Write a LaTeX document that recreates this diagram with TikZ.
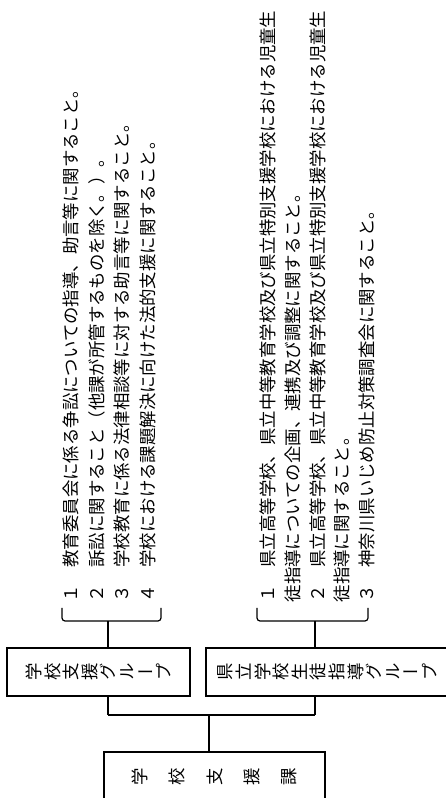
\documentclass[tikz,border=0pt]{standalone}
\usepackage{fontspec}
\setmainfont{Noto Sans CJK JP}
\newfontfamily\tatefont[RawFeature=+vert]{Noto Sans CJK JP}

\begin{document}
\begin{tikzpicture}
		[x=1pt,y=1pt,rotate=90,transform shape,line width=1.2pt,
		every node/.style={inner sep=0pt},
		box/.style={draw,align=center,font=\tatefont\fontsize{17.4}{18.6}\selectfont},
		tasks/.style={anchor=north west,align=left,font=\fontsize{17.4}{#1}\selectfont}]
		\useasboundingbox (0,0) rectangle (798,-446);
		%boxes
		\node[box,minimum width=50,minimum height=221,font=\tatefont\fontsize{17.4}{37.25}\selectfont] (dept) at (21,-214.5) {学\\校\\支\\援\\課};
		\node[box,minimum width=48,minimum height=183] (grpA) at (126,-98.5) {学\\校\\支\\援\\グ\\ル\\ー\\プ};
		\node[box,minimum width=48,minimum height=243] (grpB) at (126,-327.5) {県\\立\\学\\校\\生\\徒\\指\\導\\グ\\ル\\ー\\プ};
		%tasks
		\node[tasks=25.5] (tasksA) at (195,-62.2) {１　教育委員会に係る争訟についての指導、助言等に関すること。\\
			２　訴訟に関すること（他課が所管するものを除く。）。\\
			３　学校教育に係る法律相談等に対する助言等に関すること。\\
			４　学校における課題解決に向けた法的支援に関すること。};
		\node[tasks=24.8] (tasksB) at (195,-259.2) {１　県立高等学校、県立中等教育学校及び県立特別支援学校における児童生\\
			徒指導についての企画、連携及び調整に関すること。\\
			２　県立高等学校、県立中等教育学校及び県立特別支援学校における児童生\\
			徒指導に関すること。\\
			３　神奈川県いじめ防止対策調査会に関すること。};
		%joints
		\coordinate (jd) at (83,-209);
		\coordinate (ja) at (83,-108);
		\coordinate (jb) at (83,-315);
		\coordinate (ka) at (177,-108);
		\coordinate (kb) at (177,-315);
		\draw (dept.east |- jd) -- (jd);
		\draw (ja) -- (jb);
		\foreach \from/\to in {ja/grpA,jb/grpB}
		\draw (\from) -- (\to.west |- \from);
		\foreach \from/\to in {grpA/ka,grpB/kb}
		\draw (\from.east |- \to) -- (\to);
		%brackets
		\draw[rounded corners=3pt] (190,-62) -- (177,-62) -- (177,-161) -- (190,-161);
		\draw[rounded corners=3pt] (190,-257) -- (177,-257) -- (177,-368) -- (190,-368);
	\end{tikzpicture}
\end{document}
